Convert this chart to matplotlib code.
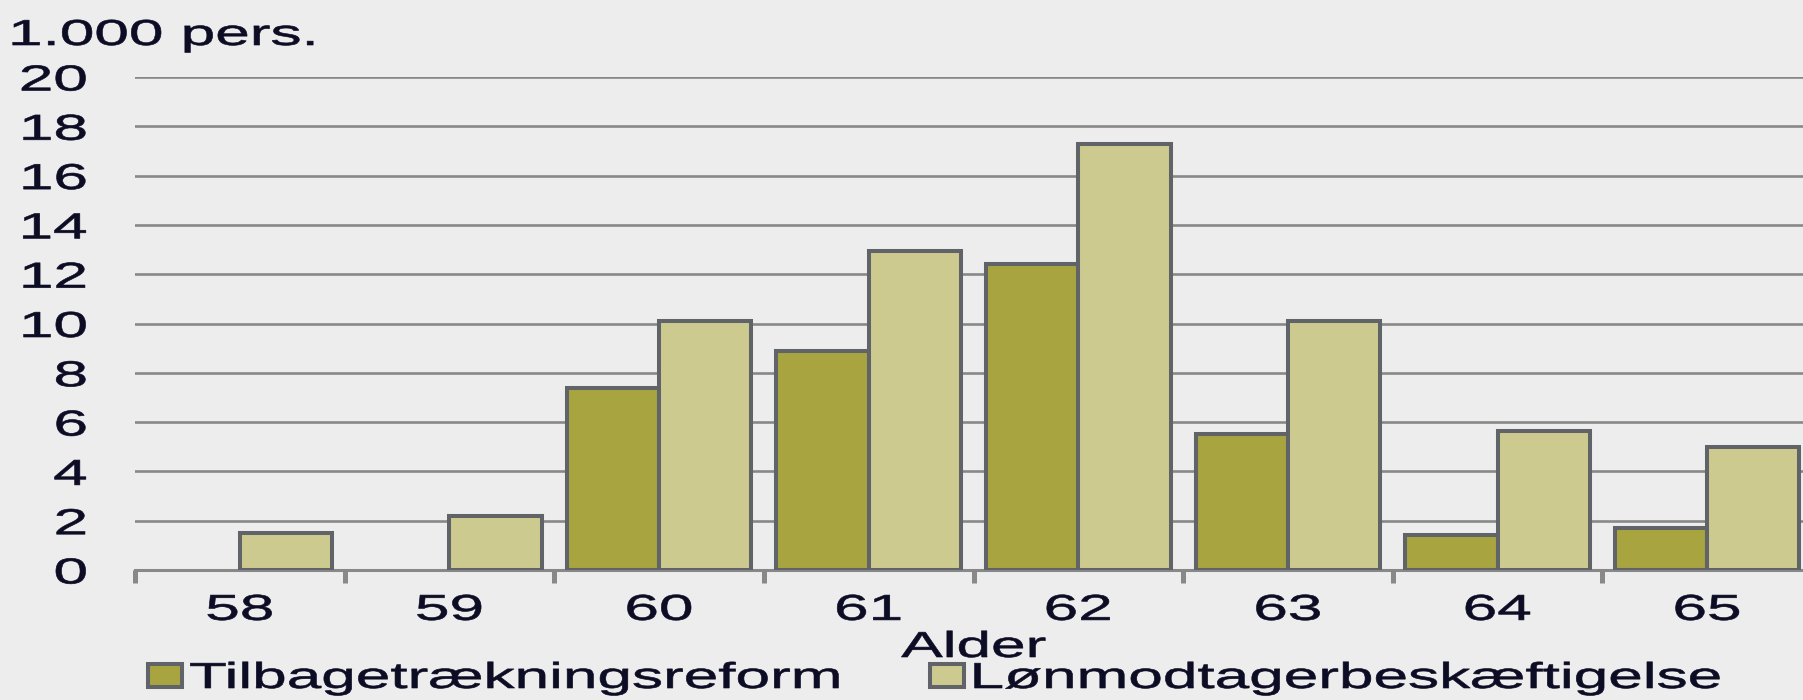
import numpy as np
import matplotlib
matplotlib.use("Agg")
import matplotlib.pyplot as plt
from matplotlib.patches import Patch
from matplotlib.patheffects import AbstractPathEffect
from matplotlib.transforms import Affine2D

# Data (1.000 persons by age)
ages = ['58', '59', '60', '61', '62', '63', '64', '65']
tilbage = [np.nan, np.nan, 7.4, 8.9, 12.4, 5.5, 1.4, 1.7]
loenmod = [1.5, 2.2, 10.1, 12.95, 17.3, 10.1, 5.65, 5.0]
yticks = list(range(0, 21, 2))

dark = '#A8A440'
light = '#CCCA8E'
edge = '#606368'
grid = '#888888'
bg = '#EDEDED'
txt = '#0c0c24'
SX = 1.72  # reference text is stretched horizontally


class HStretch(AbstractPathEffect):
    """Draw the text glyphs stretched horizontally around an anchor."""
    def __init__(self, sx, anchor='center', stroke=0.45):
        super().__init__()
        self.sx = sx
        self.anchor = anchor
        self.stroke = stroke

    def draw_path(self, renderer, gc, tpath, affine, rgbFace=None):
        ext = tpath.get_extents(affine)
        if self.anchor == 'left':
            x0 = ext.x0
        elif self.anchor == 'right':
            x0 = ext.x1
        else:
            x0 = (ext.x0 + ext.x1) / 2
        tr = affine + Affine2D().translate(-x0, 0).scale(self.sx, 1).translate(x0, 0)
        gc0 = renderer.new_gc()
        gc0.copy_properties(gc)
        gc0.set_linewidth(self.stroke)
        if rgbFace is not None:
            gc0.set_foreground(rgbFace)
        renderer.draw_path(gc0, tpath, tr, rgbFace)
        gc0.restore()


plt.rcParams['font.family'] = ['Liberation Sans', 'DejaVu Sans']
plt.rcParams['font.size'] = 26
plt.rcParams['text.color'] = txt

W, H = 1803, 700
fig = plt.figure(figsize=(W / 100, H / 100), dpi=100, facecolor=bg)
ax = fig.add_axes([135 / W, (H - 570) / H, 1677 / W, 493 / H], facecolor=bg)

x = np.arange(len(ages)) + 0.5
bw = 0.44
ax.bar(x - bw / 2, tilbage, bw, color=dark, edgecolor=edge, linewidth=2.9, zorder=3)
ax.bar(x + bw / 2, loenmod, bw, color=light, edgecolor=edge, linewidth=2.9, zorder=3)

ax.set_xlim(0, len(ages))
ax.set_ylim(0, 20)
ax.set_yticks(yticks)
ax.yaxis.grid(True, color=grid, linewidth=1.9, zorder=0)
ax.set_axisbelow(True)

for s in ['top', 'right', 'left']:
    ax.spines[s].set_visible(False)
ax.spines['bottom'].set_color(grid)
ax.spines['bottom'].set_linewidth(2.2)

# boundary ticks without labels, labels at category centres
ax.set_xticks(np.arange(len(ages) + 1))
ax.set_xticklabels([])
ax.set_xticks(x, minor=True)
ax.set_xticklabels(ages, minor=True)
ax.tick_params(axis='x', which='major', length=9.4, width=3.6, color=grid)
ax.tick_params(axis='x', which='minor', length=0, pad=16.5, labelsize=26, labelcolor=txt)
ax.tick_params(axis='y', length=0, pad=34.6, labelsize=26, labelcolor=txt)

for lbl in ax.get_xticklabels(minor=True):
    lbl.set_path_effects([HStretch(SX, 'center')])
for lbl in ax.get_yticklabels():
    lbl.set_path_effects([HStretch(SX, 'right')])

ax.set_xlabel('Alder', fontsize=26, color=txt)
ax.xaxis.label.set_va('baseline')
ax.xaxis.set_label_coords(0.5, -(657 - 570) / 493)
ax.xaxis.label.set_path_effects([HStretch(SX, 'center')])

t = fig.text(10 / W, (H - 45) / H, '1.000 pers.', ha='left', va='baseline', fontsize=26)
t.set_path_effects([HStretch(SX, 'left')])

handles = [Patch(facecolor=dark, edgecolor=edge, linewidth=2.9),
           Patch(facecolor=light, edgecolor=edge, linewidth=2.9)]
leg = fig.legend(handles, ['Tilbagetrækningsreform', 'Lønmodtagerbeskæftigelse'],
                 loc='upper left', bbox_to_anchor=(148 / W, (H - 661) / H),
                 ncol=2, frameon=False, fontsize=26, borderpad=0, borderaxespad=0,
                 handlelength=0.95, handleheight=0.62, handletextpad=0.2,
                 columnspacing=10.0)
for lt in leg.get_texts():
    lt.set_path_effects([HStretch(SX, 'left')])

fig.savefig('out.png', dpi=100, facecolor=bg)
